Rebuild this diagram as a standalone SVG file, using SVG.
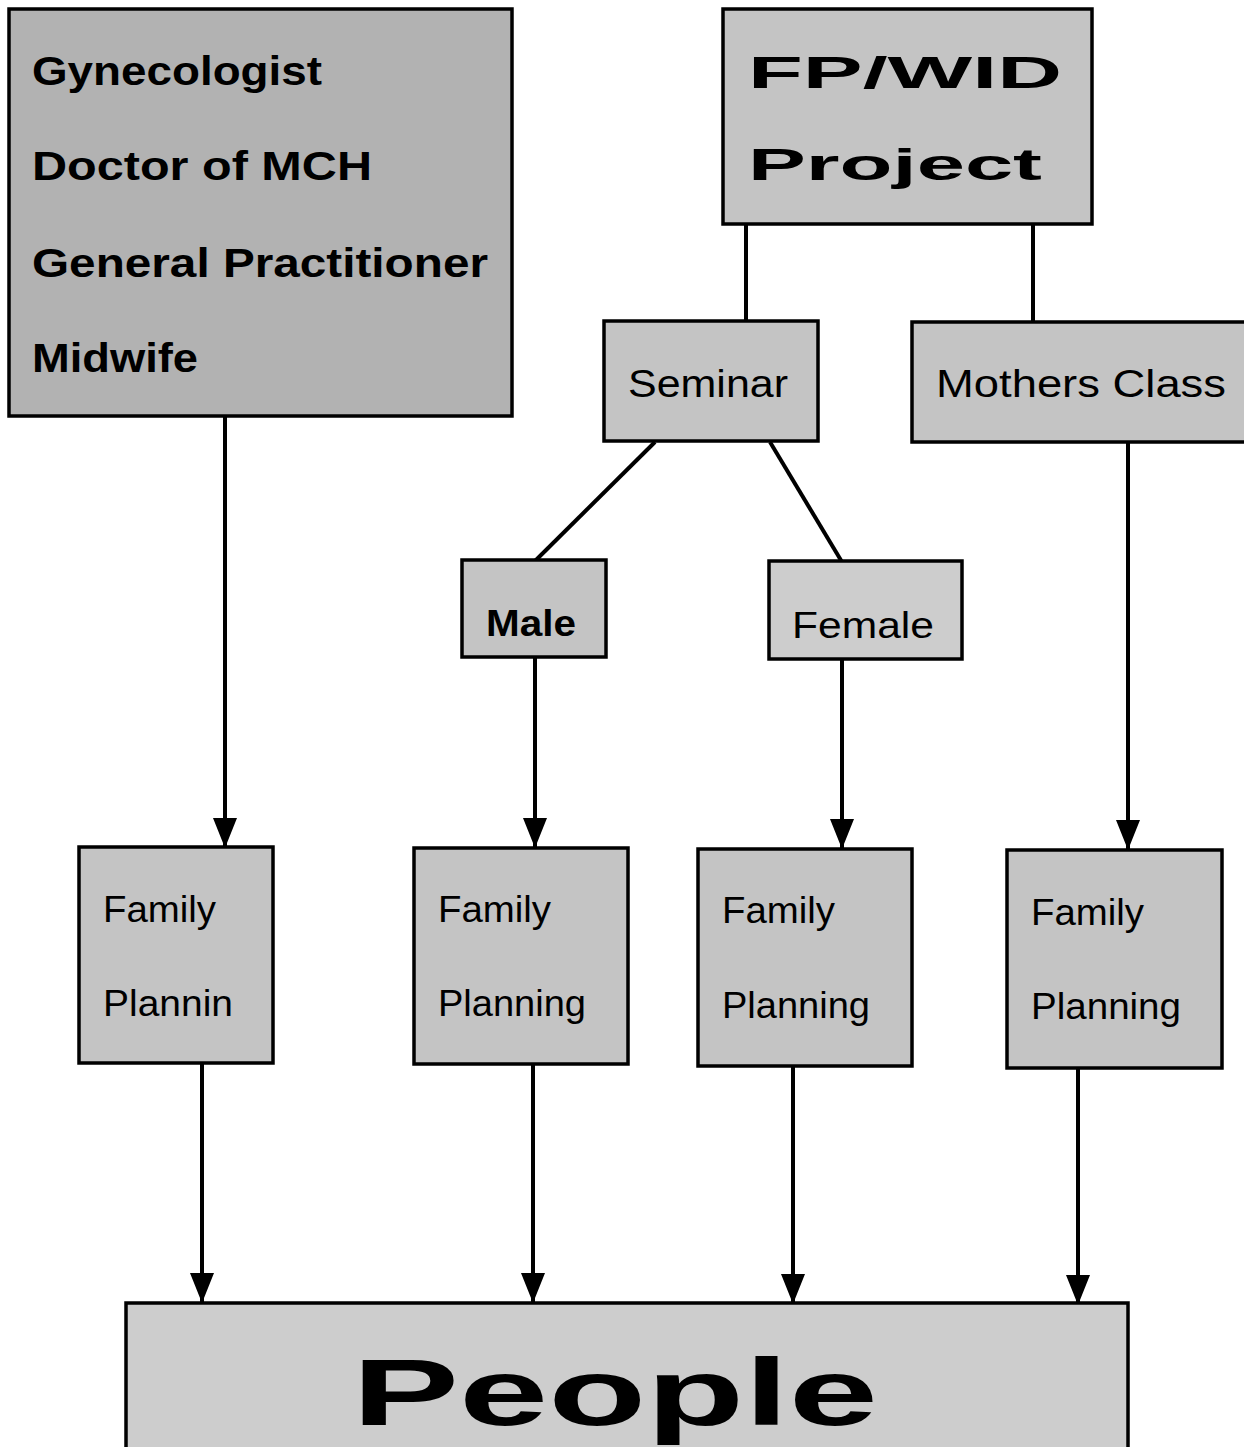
<svg xmlns="http://www.w3.org/2000/svg" width="1244" height="1447" viewBox="0 0 1244 1447">
<style>
.box{fill:#c4c4c4;stroke:#000;stroke-width:3.5}
.dark{fill:#b2b2b2}
.light{fill:#cdcdcd}
.t{font-family:"Liberation Sans",Arial,sans-serif;fill:#000}
.b{font-weight:bold}
.c{stroke:#000;stroke-width:4;fill:none}
</style>
<defs>
<marker id="ah" viewBox="0 0 30 24" refX="30" refY="12" markerWidth="30" markerHeight="24" markerUnits="userSpaceOnUse" orient="auto">
<path d="M0,0 L30,12 L0,24 z" fill="#000"/>
</marker>
</defs>
<rect width="1244" height="1447" fill="#fff"/>
<g id="connectors">
<line class="c" x1="746" y1="224" x2="746" y2="322"/>
<line class="c" x1="1033" y1="224" x2="1033" y2="322"/>
<line class="c" x1="655" y1="442" x2="535" y2="561"/>
<line class="c" x1="770" y1="442" x2="842" y2="562"/>
<line class="c" x1="225" y1="416" x2="225" y2="848" marker-end="url(#ah)"/>
<line class="c" x1="535" y1="657" x2="535" y2="848" marker-end="url(#ah)"/>
<line class="c" x1="842" y1="659" x2="842" y2="849" marker-end="url(#ah)"/>
<line class="c" x1="1128" y1="442" x2="1128" y2="850" marker-end="url(#ah)"/>
<line class="c" x1="202" y1="1063" x2="202" y2="1303" marker-end="url(#ah)"/>
<line class="c" x1="533" y1="1064" x2="533" y2="1303" marker-end="url(#ah)"/>
<line class="c" x1="793" y1="1066" x2="793" y2="1304" marker-end="url(#ah)"/>
<line class="c" x1="1078" y1="1068" x2="1078" y2="1305" marker-end="url(#ah)"/>
</g>
<g id="staff">
<rect class="box dark" x="9" y="9" width="503" height="407"/>
<text class="t b" x="32" y="85" font-size="40" textLength="290" lengthAdjust="spacingAndGlyphs">Gynecologist</text>
<text class="t b" x="32" y="180" font-size="40" textLength="340" lengthAdjust="spacingAndGlyphs">Doctor of MCH</text>
<text class="t b" x="32" y="277" font-size="40" textLength="456" lengthAdjust="spacingAndGlyphs">General Practitioner</text>
<text class="t b" x="32" y="372" font-size="40" textLength="166" lengthAdjust="spacingAndGlyphs">Midwife</text>
</g>
<g id="project">
<rect class="box" x="723" y="9" width="369" height="215"/>
<text class="t b" x="748" y="88" font-size="44" textLength="314" lengthAdjust="spacingAndGlyphs">FP/WID</text>
<text class="t b" x="748" y="180" font-size="44" textLength="294" lengthAdjust="spacingAndGlyphs">Project</text>
</g>
<g id="seminar">
<rect class="box" x="604" y="321" width="214" height="120"/>
<text class="t" x="628" y="397" font-size="38" textLength="160" lengthAdjust="spacingAndGlyphs">Seminar</text>
</g>
<g id="mothers">
<rect class="box" x="912" y="322" width="336" height="120"/>
<text class="t" x="936" y="397" font-size="38" textLength="290" lengthAdjust="spacingAndGlyphs">Mothers Class</text>
</g>
<g id="male">
<rect class="box" x="462" y="560" width="144" height="97"/>
<text class="t b" x="486" y="636" font-size="36" textLength="90" lengthAdjust="spacingAndGlyphs">Male</text>
</g>
<g id="female">
<rect class="box light" x="769" y="561" width="193" height="98"/>
<text class="t" x="792" y="638" font-size="36" textLength="142" lengthAdjust="spacingAndGlyphs">Female</text>
</g>
<g id="fp1">
<rect class="box" x="79" y="847" width="194" height="216"/>
<text class="t" x="103" y="922" font-size="36" textLength="113" lengthAdjust="spacingAndGlyphs">Family</text>
<text class="t" x="103" y="1016" font-size="36" textLength="130" lengthAdjust="spacingAndGlyphs">Plannin</text>
</g>
<g id="fp2">
<rect class="box" x="414" y="848" width="214" height="216"/>
<text class="t" x="438" y="922" font-size="36" textLength="113" lengthAdjust="spacingAndGlyphs">Family</text>
<text class="t" x="438" y="1016" font-size="36" textLength="148" lengthAdjust="spacingAndGlyphs">Planning</text>
</g>
<g id="fp3">
<rect class="box" x="698" y="849" width="214" height="217"/>
<text class="t" x="722" y="923" font-size="36" textLength="113" lengthAdjust="spacingAndGlyphs">Family</text>
<text class="t" x="722" y="1018" font-size="36" textLength="148" lengthAdjust="spacingAndGlyphs">Planning</text>
</g>
<g id="fp4">
<rect class="box" x="1007" y="850" width="215" height="218"/>
<text class="t" x="1031" y="925" font-size="36" textLength="113" lengthAdjust="spacingAndGlyphs">Family</text>
<text class="t" x="1031" y="1019" font-size="36" textLength="150" lengthAdjust="spacingAndGlyphs">Planning</text>
</g>
<g id="people">
<rect class="box light" x="126" y="1303" width="1002" height="150"/>
<text class="t b" x="352" y="1425" font-size="94" textLength="526" lengthAdjust="spacingAndGlyphs">People</text>
</g>
</svg>
